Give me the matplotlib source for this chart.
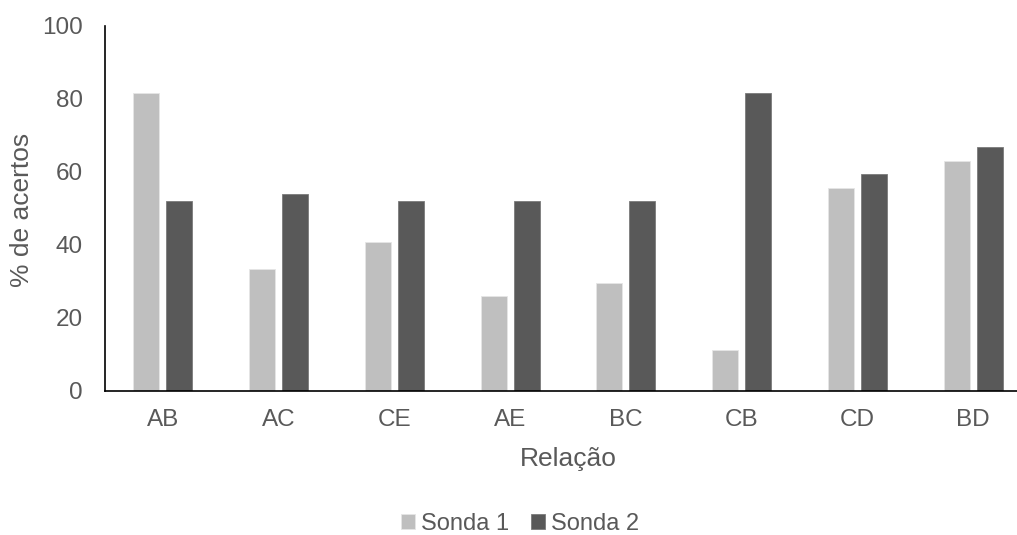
import numpy as np
import matplotlib.pyplot as plt

plt.rcParams['font.family'] = ['Liberation Sans', 'DejaVu Sans']

categorias = ['AB', 'AC', 'CE', 'AE', 'BC', 'CB', 'CD', 'BD']
sonda1 = [81.5, 33.3, 40.7, 25.9, 29.6, 11.1, 55.6, 63.0]
sonda2 = [51.9, 54.0, 51.9, 51.9, 51.9, 81.5, 59.3, 66.7]

cor_texto = '#595959'
W, H = 1017, 535

fig = plt.figure(figsize=(W / 100, H / 100), dpi=100)
# the plot area runs a little past the right edge of the image
ax = fig.add_axes([105 / W, 1 - 390.7 / H, (1031 - 105) / W, (390.7 - 25.7) / H])

x = np.arange(len(categorias))
largura = 0.225
ax.bar(x - 0.142, sonda1, largura, color='#bfbfbf', edgecolor='#e6e6e6', linewidth=0.6, label='Sonda 1')
ax.bar(x + 0.142, sonda2, largura, color='#595959', edgecolor='#7a7a7a', linewidth=0.6, label='Sonda 2')

ax.set_xlim(-0.5, 7.5)
ax.set_ylim(0, 100)
ax.set_yticks([0, 20, 40, 60, 80, 100])
ax.set_xticks(x)
ax.set_xticklabels(categorias)
ax.tick_params(axis='both', length=0, labelsize=17.5, labelcolor=cor_texto)
ax.tick_params(axis='y', pad=16)
ax.tick_params(axis='x', pad=13)

for lado in ['top', 'right']:
    ax.spines[lado].set_visible(False)
for lado in ['left', 'bottom']:
    ax.spines[lado].set_color('black')
    ax.spines[lado].set_linewidth(1.2)

fig.text(21.7 / W, 1 - 209.5 / H, '% de acertos', rotation=90, ha='center', va='center',
         fontsize=19, color=cor_texto)
fig.text(568 / W, 1 - 459 / H, 'Relação', ha='center', va='center', fontsize=19, color=cor_texto)

fig.legend(loc='center', bbox_to_anchor=(520 / W, 1 - 524 / H), ncol=2, frameon=False,
           fontsize=17, labelcolor=cor_texto, handlelength=0.6, handleheight=0.6,
           handletextpad=0.25, columnspacing=0.9)

fig.savefig('out.png', dpi=100)
